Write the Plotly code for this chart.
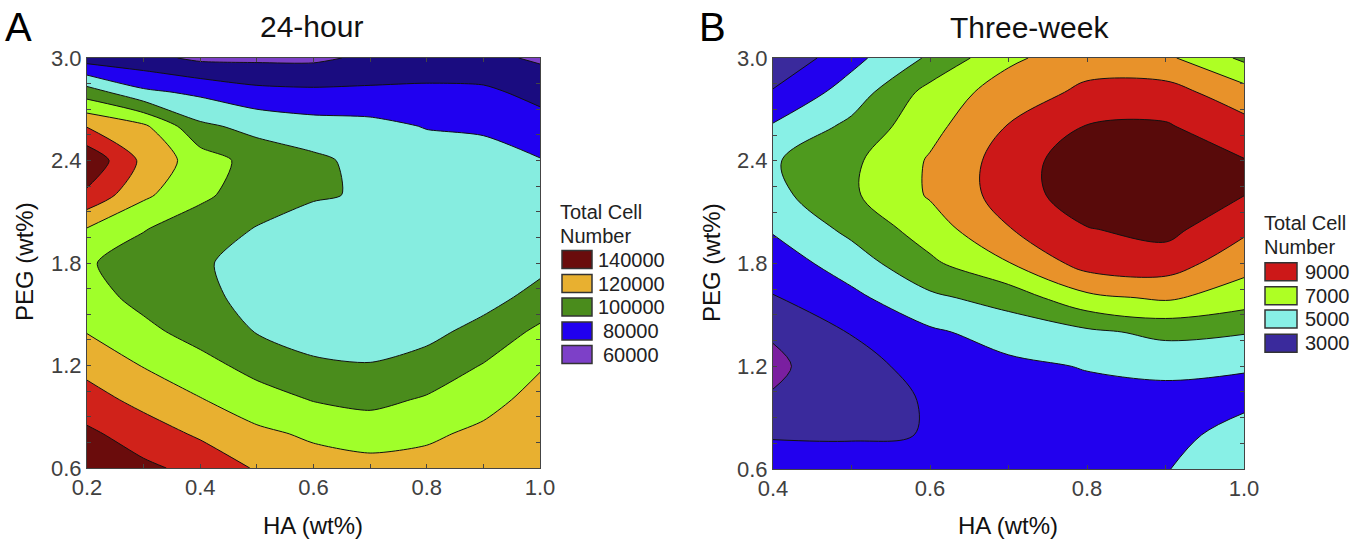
import plotly.graph_objects as go

# ---------------- data ----------------
# Panel A: 24-hour, HA (wt%) on x, PEG (wt%) on y, total cell number
ha_24h = [0.2, 0.3, 0.4, 0.5, 0.6, 0.7, 0.8, 0.9, 1.0]
peg_24h = [0.6, 0.8, 1.0, 1.2, 1.4, 1.6, 1.8, 2.0, 2.2, 2.4, 2.6, 2.8, 3.0]
cells_24h = [
    [143000, 137000, 132000, 124000, 119000, 118500, 119000, 122000, 124000],  # 0.6
    [137000, 130000, 123500, 117000, 113500, 110500, 113000, 117500, 122000],  # 0.8
    [129000, 122000, 115500, 109500, 104500, 102500, 106000, 111000, 119000],  # 1.0
    [122000, 114500, 108500, 101500, 96500, 95500, 99000, 105500, 114000],     # 1.2
    [114500, 107500, 101000, 94500, 91000, 90000, 92000, 98500, 107000],       # 1.4
    [109000, 102000, 97000, 92500, 89000, 87500, 88000, 91000, 98500],         # 1.6
    [106000, 100500, 96000, 92000, 89000, 88000, 87000, 88500, 92000],         # 1.8
    [114500, 105500, 100000, 94500, 91000, 90000, 89000, 89000, 90000],        # 2.0
    [133000, 117000, 107000, 100000, 96000, 94000, 91000, 90000, 89000],       # 2.2
    [143000, 122500, 110000, 101000, 97000, 92000, 90000, 89000, 85500],       # 2.4
    [124500, 117000, 97000, 92000, 89000, 88000, 84500, 83500, 79000],         # 2.6
    [100000, 87000, 83000, 78000, 77000, 77000, 77500, 77000, 72000],          # 2.8
    [70000, 68000, 63000, 63000, 63000, 67000, 68000, 67500, 63500],           # 3.0
]

# Panel B: three-week
ha_3wk = [0.4, 0.5, 0.6, 0.7, 0.8, 0.9, 1.0]
peg_3wk = [0.6, 0.8, 1.0, 1.2, 1.4, 1.6, 1.8, 2.0, 2.2, 2.4, 2.6, 2.8, 3.0]
cells_3wk = [
    [3800, 3850, 3900, 4050, 4300, 4450, 5200],    # 0.6
    [3450, 3420, 3520, 3950, 4100, 4200, 4850],    # 0.8
    [2600, 3000, 3600, 4000, 4200, 4150, 4300],    # 1.0
    [2300, 3150, 3850, 4300, 4550, 4750, 4550],    # 1.2
    [2600, 3550, 4350, 4900, 5300, 5750, 5570],    # 1.4
    [3450, 4250, 5300, 5900, 7250, 7650, 7000],    # 1.6
    [3950, 5000, 6300, 7450, 8900, 9000, 7850],    # 1.8
    [4600, 5750, 7000, 8450, 9450, 9800, 8700],    # 2.0
    [5200, 6350, 7600, 8950, 10100, 10300, 9520],  # 2.2
    [5400, 6300, 7600, 8950, 10150, 10250, 9550],  # 2.4
    [4600, 5750, 7200, 8550, 9550, 9600, 8850],    # 2.6
    [3600, 4950, 6850, 8000, 8700, 8900, 7900],    # 2.8
    [2600, 4200, 5650, 7300, 8100, 7700, 6300],    # 3.0
]

# legend entries
legend_24h = [140000, 120000, 100000, 80000, 60000]
legend_3wk = [9000, 7000, 5000, 3000]

# band colours, lowest band first
colors_24h = ["#7D40C8", "#1A0C80", "#2000F0", "#86EDE0", "#4A8C1C",
              "#A0FF2A", "#E8B030", "#D0221A", "#6A0C0C"]
colors_3wk = ["#7A1FA0", "#3A2A9C", "#2200EE", "#88F0E6", "#4E9A1E",
              "#AEFF24", "#E8922A", "#CC1818", "#580A0A"]
legend_idx_24h = [8, 6, 4, 2, 0]
legend_idx_3wk = [7, 5, 3, 1]

# ---------------- figure ----------------
W, H = 1366, 542
FONT = "Liberation Sans, Arial, sans-serif"


def fx(p):
    return p / W


def fy(p):
    return 1 - p / H


def stepscale(cols):
    n = len(cols) - 1
    return [[i / n, c] for i, c in enumerate(cols)]


fig = go.Figure()

fig.add_trace(go.Contour(
    x=ha_24h, y=peg_24h, z=cells_24h,
    autocontour=False,
    contours=dict(start=65000, end=135000, size=10000, coloring="fill"),
    colorscale=stepscale(colors_24h), showscale=False,
    line=dict(color="#111111", width=1, smoothing=0.7),
    hoverinfo="skip", xaxis="x", yaxis="y",
))
fig.add_trace(go.Contour(
    x=ha_3wk, y=peg_3wk, z=cells_3wk,
    autocontour=False,
    contours=dict(start=2500, end=9500, size=1000, coloring="fill"),
    colorscale=stepscale(colors_3wk), showscale=False,
    line=dict(color="#111111", width=1, smoothing=1.0),
    hoverinfo="skip", xaxis="x2", yaxis="y2",
))

# plot frames (pixel boxes)
A_box = (87, 540, 58, 468)
B_box = (773, 1244, 58, 469)

axis_common = dict(
    showgrid=False, zeroline=False, showline=True, linecolor="#444444",
    linewidth=1, mirror="ticks", ticks="inside", ticklen=4, tickcolor="#444444",
    tickfont=dict(family=FONT, size=22, color="#404040"), tickformat=".1f",
    automargin=False,
)

fig.update_layout(
    width=W, height=H, autosize=False,
    margin=dict(l=0, r=0, t=0, b=0, pad=0, autoexpand=False),
    paper_bgcolor="white", plot_bgcolor="white",
    showlegend=False,
    xaxis=dict(domain=[fx(A_box[0]), fx(A_box[1])], range=[0.2, 1.0],
               tickvals=[0.2, 0.4, 0.6, 0.8, 1.0], anchor="y",
               minor=dict(dtick=0.1, ticks="inside", ticklen=4, tickcolor="#444444"),
               **axis_common),
    yaxis=dict(domain=[fy(A_box[3]), fy(A_box[2])], range=[0.6, 3.0],
               tickvals=[0.6, 1.2, 1.8, 2.4, 3.0], anchor="x",
               minor=dict(dtick=0.15, tick0=0.6, ticks="inside", ticklen=4, tickcolor="#444444"),
               **axis_common),
    xaxis2=dict(domain=[fx(B_box[0]), fx(B_box[1])], range=[0.4, 1.0],
                tickvals=[0.4, 0.6, 0.8, 1.0], anchor="y2",
                minor=dict(dtick=0.1, ticks="inside", ticklen=4, tickcolor="#444444"),
                **axis_common),
    yaxis2=dict(domain=[fy(B_box[3]), fy(B_box[2])], range=[0.6, 3.0],
                tickvals=[0.6, 1.2, 1.8, 2.4, 3.0], anchor="x2",
                minor=dict(dtick=0.15, tick0=0.6, ticks="inside", ticklen=4, tickcolor="#444444"),
                **axis_common),
)

annotations = []
shapes = []


def text(x, y, s, size, color="#111111", xanchor="center", angle=0):
    annotations.append(dict(
        x=fx(x), y=fy(y), xref="paper", yref="paper", text=s, showarrow=False,
        xanchor=xanchor, yanchor="middle", textangle=angle,
        font=dict(family=FONT, size=size, color=color),
    ))


# panel letters and titles
text(18, 27, "A", 40, "#000000")
text(712, 27, "B", 40, "#000000")
text(311, 27, "24-hour", 30)
text(1029, 28, "Three-week", 30)
# axis titles
text(313, 525, "HA (wt%)", 24)
text(1008, 525, "HA (wt%)", 24)
text(24, 262, "PEG (wt%)", 24, angle=-90)
text(711, 262, "PEG (wt%)", 24, angle=-90)


def legend(x_left, title_y, box_x, text_cx, ys, labels, idxs, cols):
    text(x_left, title_y, "Total Cell", 20, "#222222", xanchor="left")
    text(x_left, title_y + 24, "Number", 20, "#222222", xanchor="left")
    for yc, lab, k in zip(ys, labels, idxs):
        shapes.append(dict(
            type="rect", xref="paper", yref="paper",
            x0=fx(box_x[0]), x1=fx(box_x[1]), y0=fy(yc + 9), y1=fy(yc - 9),
            fillcolor=cols[k], line=dict(color="#333333", width=1.5),
        ))
        text(text_cx, yc, str(lab), 20, "#222222")


legend(558, 212, (562, 592), 631, [259.5, 283.5, 307, 331, 354.5],
       legend_24h, legend_idx_24h, colors_24h)
legend(1262, 223, (1265, 1297), 1327, [271.7, 295.8, 319, 343.3],
       legend_3wk, legend_idx_3wk, colors_3wk)

fig.update_layout(annotations=annotations, shapes=shapes)

fig.write_html(
    "out.html",
    config={"displayModeBar": False, "staticPlot": True},
    post_script="document.body.style.margin='0';document.body.style.overflow='hidden';",
)
